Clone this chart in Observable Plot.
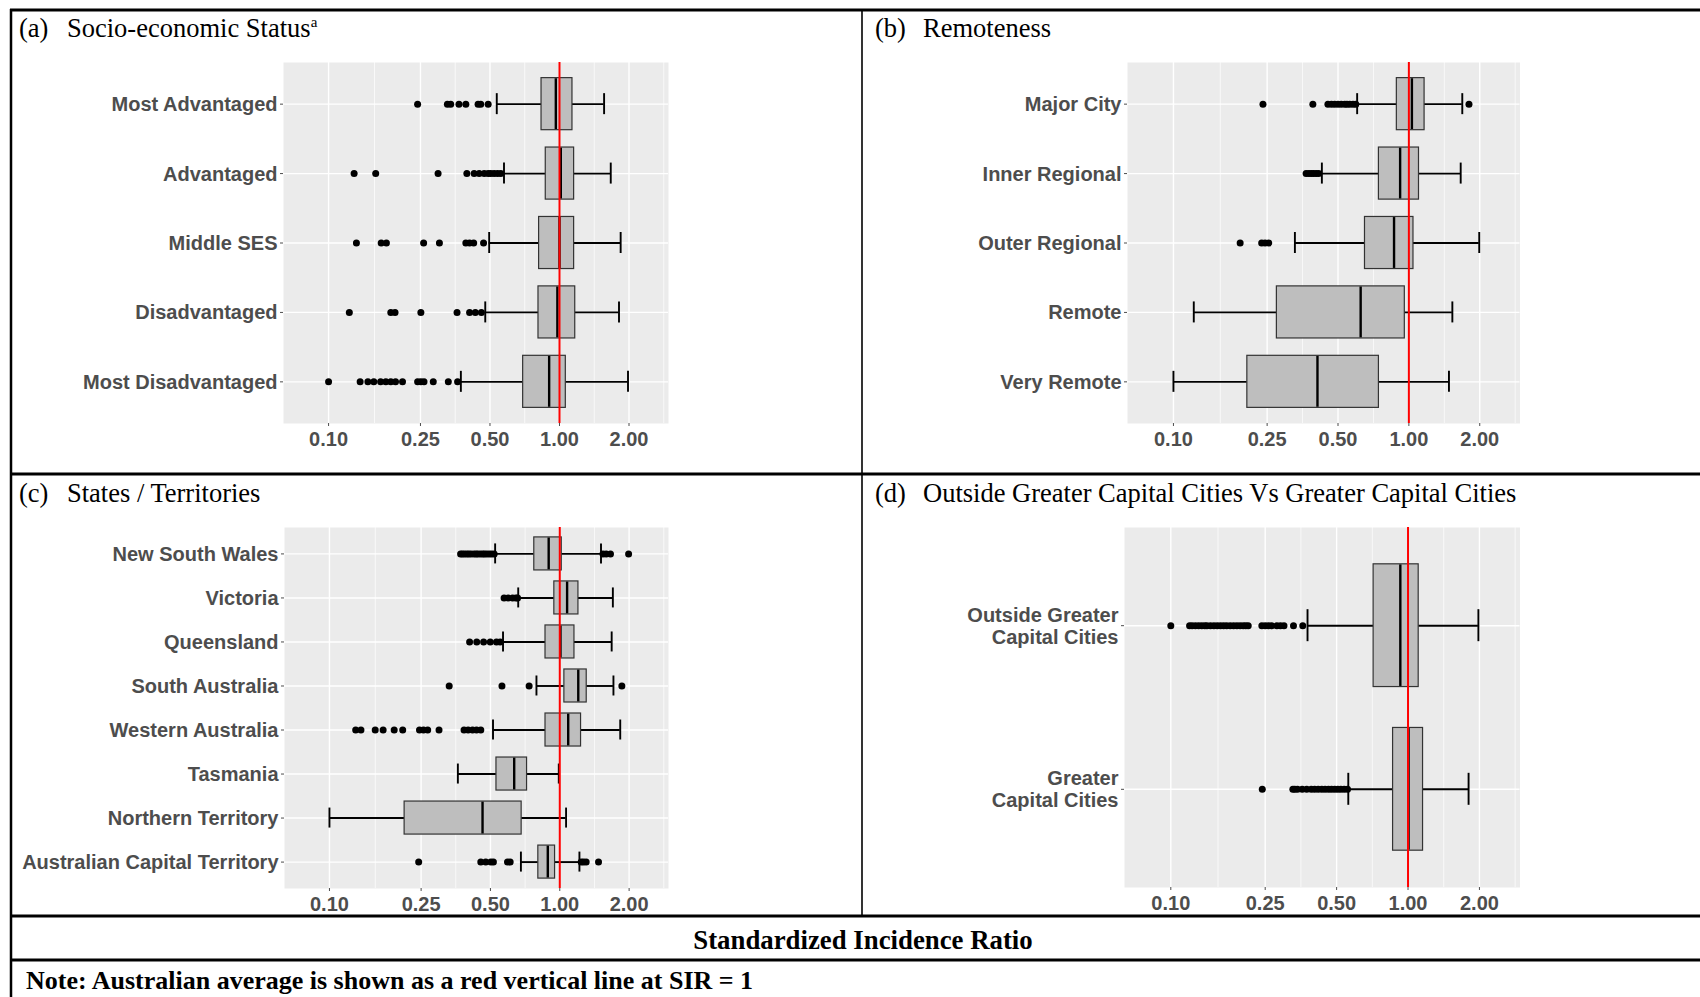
<!DOCTYPE html>
<html>
<head>
<meta charset="utf-8">
<script src="https://cdn.jsdelivr.net/npm/d3@7"></script>
<script src="https://cdn.jsdelivr.net/npm/@observablehq/plot@0.6"></script>
<style>
  body { margin: 0; background: #fff; }
  #page { position: relative; width: 1700px; height: 997px; overflow: hidden; background: #fff; }
  #page > svg.panel { position: absolute; }
  #overlay { position: absolute; left: 0; top: 0; pointer-events: none; }
</style>
</head>
<body>
<div id="page"></div>
<script>
// Shared log axis for the standardized incidence ratio
const xTicks = [0.1, 0.25, 0.5, 1, 2];
const xDomain = [0.0638, 2.965];

// (a) Socio-economic status — stats are [lower whisker, Q1, median, Q3, upper whisker]
const sesGroups = ["Most Advantaged", "Advantaged", "Middle SES", "Disadvantaged", "Most Disadvantaged"];
const sesStats = [
  [0.535, 0.836, 0.964, 1.138, 1.56],
  [0.575, 0.872, 1.013, 1.157, 1.667],
  [0.496, 0.816, 1.00, 1.157, 1.84],
  [0.477, 0.811, 0.979, 1.17, 1.81],
  [0.374, 0.696, 0.902, 1.065, 1.98]
];
const sesOutliers = [
  [0.243, 0.327, 0.338, 0.367, 0.393, 0.444, 0.456, 0.491],
  [0.129, 0.160, 0.298, 0.397, 0.427, 0.449, 0.472, 0.491, 0.504, 0.521, 0.539, 0.557],
  [0.132, 0.169, 0.178, 0.258, 0.302, 0.393, 0.408, 0.425, 0.469],
  [0.123, 0.186, 0.194, 0.251, 0.360, 0.408, 0.432, 0.459],
  [0.100, 0.137, 0.148, 0.157, 0.168, 0.177, 0.186, 0.195, 0.209, 0.243, 0.251, 0.259, 0.284, 0.330, 0.362]
];

// (b) Remoteness
const remGroups = ["Major City", "Inner Regional", "Outer Regional", "Remote", "Very Remote"];
const remStats = [
  [0.603, 0.889, 1.03, 1.166, 1.686],
  [0.427, 0.746, 0.918, 1.104, 1.66],
  [0.328, 0.651, 0.865, 1.046, 1.99],
  [0.122, 0.275, 0.624, 0.961, 1.53],
  [0.100, 0.206, 0.409, 0.746, 1.48]
];
const remOutliers = [
  [0.240, 0.391, 0.453, 0.469, 0.484, 0.500, 0.516, 0.534, 0.546, 0.561, 0.579, 0.595, 1.80],
  [0.366, 0.376, 0.385, 0.394, 0.404, 0.414],
  [0.192, 0.237, 0.245, 0.254],
  [],
  []
];

// (c) States / Territories
const stateGroups = ["New South Wales", "Victoria", "Queensland", "South Australia",
  "Western Australia", "Tasmania", "Northern Territory", "Australian Capital Territory"];
const stateStats = [
  [0.524, 0.775, 0.895, 1.02, 1.51],
  [0.660, 0.947, 1.076, 1.205, 1.70],
  [0.567, 0.867, 1.007, 1.158, 1.68],
  [0.792, 1.047, 1.203, 1.309, 1.71],
  [0.513, 0.867, 1.088, 1.237, 1.83],
  [0.361, 0.531, 0.634, 0.721, 0.99],
  [0.100, 0.212, 0.462, 0.683, 1.065],
  [0.678, 0.807, 0.887, 0.954, 1.217]
];
const stateOutliers = [
  [0.371, 0.378, 0.386, 0.395, 0.403, 0.412, 0.424, 0.433, 0.441, 0.452, 0.463, 0.471, 0.482, 0.494, 0.506, 0.519, 1.54, 1.59, 1.66, 1.99],
  [0.573, 0.597, 0.624, 0.645, 0.656],
  [0.406, 0.436, 0.467, 0.499, 0.531, 0.551],
  [0.331, 0.561, 0.736, 1.86],
  [0.130, 0.137, 0.158, 0.171, 0.191, 0.208, 0.246, 0.256, 0.267, 0.299, 0.384, 0.400, 0.418, 0.435, 0.454],
  [],
  [],
  [0.244, 0.454, 0.477, 0.502, 0.515, 0.593, 0.609, 1.239, 1.268, 1.302, 1.473]
];

// (d) Outside Greater Capital Cities vs Greater Capital Cities
const gccGroups = ["Outside Greater Capital Cities", "Greater Capital Cities"];
const gccLabels = ["Outside Greater\nCapital Cities", "Greater\nCapital Cities"];
const gccStats = [
  [0.377, 0.716, 0.928, 1.109, 1.98],
  [0.560, 0.865, 1.005, 1.157, 1.80]
];
const gccOutliers = [
  [0.100, 0.120, 0.123, 0.127, 0.131, 0.135, 0.139, 0.142, 0.147, 0.152, 0.157, 0.162, 0.167, 0.172,
   0.178, 0.184, 0.190, 0.196, 0.202, 0.207, 0.212, 0.242, 0.250, 0.258, 0.266, 0.280, 0.290, 0.300, 0.329, 0.360],
  [0.243, 0.327, 0.333, 0.342, 0.358, 0.374, 0.391, 0.404, 0.418, 0.433, 0.447, 0.462, 0.476, 0.491, 0.506, 0.521, 0.538, 0.556]
];

const page = document.getElementById("page");
const sans = "'Liberation Sans', Arial, Helvetica, sans-serif";
const serif = "'Liberation Serif', 'Times New Roman', Times, serif";

// minor grid lines sit halfway (in log space) between the labelled breaks
const logTicks = xTicks.map(Math.log10);
const xMinor = logTicks.slice(1).map((t, i) => 10 ** ((t + logTicks[i]) / 2));
xMinor.push(10 ** (logTicks[logTicks.length - 1] + (logTicks[logTicks.length - 1] - logTicks[logTicks.length - 2]) / 2));

function boxPanel({groups, labels, stats, outliers, cell, frame, capPx}) {
  const rows = groups.map((g, i) => ({
    group: g, low: stats[i][0], q1: stats[i][1], med: stats[i][2], q3: stats[i][3], high: stats[i][4]
  }));
  const pts = groups.flatMap((g, i) => outliers[i].map(v => ({group: g, value: v})));
  const label = new Map(groups.map((g, i) => [g, labels ? labels[i] : g]));
  const mt = frame.top - cell.y, mb = cell.y + cell.h - frame.bottom;
  const ml = frame.left - cell.x, mr = cell.x + cell.w - frame.right;
  const step = (cell.h - mt - mb) / (groups.length + 0.2);
  const capInset = (step * 0.75 - capPx) / 2;
  const svg = Plot.plot({
    width: cell.w, height: cell.h,
    marginTop: mt, marginBottom: mb, marginLeft: ml, marginRight: mr,
    style: {fontFamily: sans, background: "transparent", overflow: "visible"},
    x: {type: "log", domain: xDomain, label: null},
    y: {type: "band", domain: groups, paddingInner: 0.25, paddingOuter: 0.225, round: false, label: null},
    marks: [
      Plot.frame({fill: "#EBEBEB", stroke: null}),
      Plot.ruleX(xMinor, {stroke: "white", strokeWidth: 0.7}),
      Plot.ruleX(xTicks, {stroke: "white", strokeWidth: 1.4}),
      Plot.ruleY(groups, {y: d => d, stroke: "white", strokeWidth: 1.4}),
      Plot.ruleY(rows, {y: "group", x1: "low", x2: "q1", stroke: "black", strokeWidth: 1.9}),
      Plot.ruleY(rows, {y: "group", x1: "q3", x2: "high", stroke: "black", strokeWidth: 1.9}),
      Plot.tickX(rows, {x: "low", y: "group", stroke: "black", strokeWidth: 1.9, inset: capInset}),
      Plot.tickX(rows, {x: "high", y: "group", stroke: "black", strokeWidth: 1.9, inset: capInset}),
      Plot.barX(rows, {x1: "q1", x2: "q3", y: "group", fill: "#BEBEBE", stroke: "#333333", strokeWidth: 1.2}),
      Plot.tickX(rows, {x: "med", y: "group", stroke: "black", strokeWidth: 2.4, inset: 0.6}),
      Plot.dot(pts, {x: "value", y: "group", r: 3.5, fill: "black", stroke: null}),
      Plot.ruleX([1], {stroke: "#FF0000", strokeWidth: 2}),
      Plot.axisX({ticks: xTicks, tickFormat: d => d.toFixed(2), tickSize: 3, tickPadding: 5,
        fontSize: 20, fontWeight: "bold", color: "#4D4D4D", label: null}),
      Plot.axisY({tickFormat: d => label.get(d), tickSize: 3, tickPadding: 3, lineHeight: 1.1,
        fontSize: 20, fontWeight: "bold", color: "#4D4D4D", label: null})
    ]
  });
  svg.classList.add("panel");
  svg.style.left = cell.x + "px";
  svg.style.top = cell.y + "px";
  page.appendChild(svg);
}

boxPanel({groups: sesGroups, stats: sesStats, outliers: sesOutliers, capPx: 21,
  cell: {x: 11, y: 10, w: 851, h: 464}, frame: {left: 283, right: 668, top: 62, bottom: 423}});
boxPanel({groups: remGroups, stats: remStats, outliers: remOutliers, capPx: 21,
  cell: {x: 862, y: 10, w: 838, h: 464}, frame: {left: 1127, right: 1519.5, top: 62, bottom: 423}});
boxPanel({groups: stateGroups, stats: stateStats, outliers: stateOutliers, capPx: 20,
  cell: {x: 11, y: 474, w: 851, h: 442}, frame: {left: 284, right: 668, top: 527, bottom: 888}});
boxPanel({groups: gccGroups, labels: gccLabels, stats: gccStats, outliers: gccOutliers, capPx: 32,
  cell: {x: 862, y: 474, w: 838, h: 442}, frame: {left: 1124, right: 1519.5, top: 527, bottom: 887}});

// Table rules, panel headings, shared axis title and footnote
const overlay = d3.select(page).append("svg").attr("id", "overlay")
  .attr("width", 1700).attr("height", 997);

const hLines = [{y: 10, w: 3}, {y: 474, w: 3}, {y: 916, w: 3}, {y: 960, w: 3}];
overlay.selectAll("line.h").data(hLines).join("line")
  .attr("x1", 10).attr("x2", 1700).attr("y1", d => d.y).attr("y2", d => d.y)
  .attr("stroke", "black").attr("stroke-width", d => d.w);
const vLines = [{x: 11, y1: 9, y2: 997, w: 2.5}, {x: 862, y1: 10, y2: 916, w: 1.6}];
overlay.selectAll("line.v").data(vLines).join("line")
  .attr("x1", d => d.x).attr("x2", d => d.x).attr("y1", d => d.y1).attr("y2", d => d.y2)
  .attr("stroke", "black").attr("stroke-width", d => d.w);

const headings = [
  {tag: "(a)", title: "Socio-economic Status", sup: "a", x: 19, y: 37},
  {tag: "(b)", title: "Remoteness", x: 875, y: 37},
  {tag: "(c)", title: "States / Territories", x: 19, y: 502},
  {tag: "(d)", title: "Outside Greater Capital Cities Vs Greater Capital Cities", x: 875, y: 502}
];
headings.forEach(h => {
  overlay.append("text").attr("x", h.x).attr("y", h.y)
    .attr("font-family", serif).attr("font-size", 26.5).attr("fill", "black").text(h.tag);
  const t = overlay.append("text").attr("x", h.x + 48).attr("y", h.y)
    .attr("font-family", serif).attr("font-size", 26.5).attr("fill", "black").text(h.title);
  if (h.sup) t.append("tspan").attr("dy", -10).attr("font-size", 15).text(h.sup);
});

overlay.append("text").attr("x", 863).attr("y", 949).attr("text-anchor", "middle")
  .attr("font-family", serif).attr("font-size", 26.8).attr("font-weight", "bold")
  .text("Standardized Incidence Ratio");
overlay.append("text").attr("x", 26).attr("y", 989)
  .attr("font-family", serif).attr("font-size", 26).attr("font-weight", "bold")
  .text("Note: Australian average is shown as a red vertical line at SIR = 1");
</script>
</body>
</html>
